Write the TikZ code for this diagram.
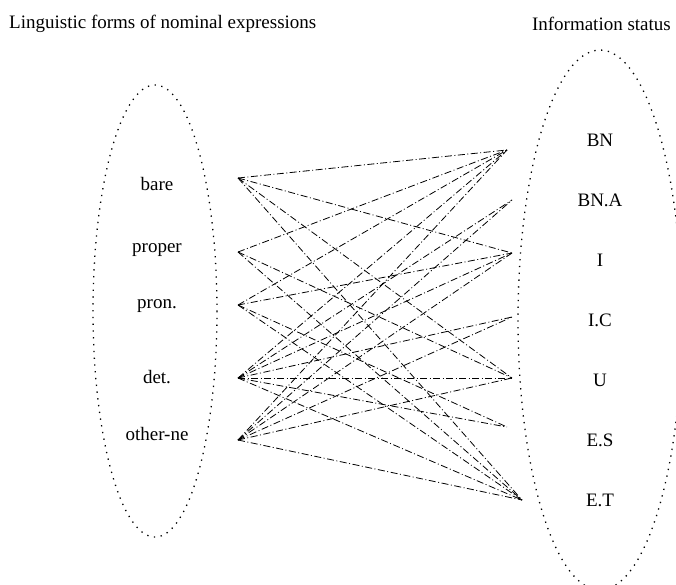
\documentclass[tikz,border=0pt]{standalone}
\usepackage{fontspec}
\setmainfont{Liberation Serif}
\usepackage{tikz}
\usetikzlibrary{positioning}
\definecolor{inkblack}{RGB}{0,0,0}

\begin{document}
\begin{tikzpicture}[x=1pt,y=-1pt,
    wordlabel/.style={font=\fontsize{19}{21}\selectfont,inner sep=0pt},
    groupring/.style={draw=inkblack,line width=1.3pt,dash pattern=on 1.3pt off 5.5pt},
    maplink/.style={draw=inkblack,line width=0.8pt,dash pattern=on 7pt off 2.5pt on 1pt off 2.5pt}]
    \useasboundingbox (0,0) rectangle (676,584);
    \clip (0,0) rectangle (676,584);

    % titles
    \node[wordlabel,anchor=west] (formtitle) at (9,24) {Linguistic forms of nominal expressions};
    \node[wordlabel,anchor=east] (statustitle) at (671,24) {Information status};

    % forms: dotted ring on the left
    \draw[groupring] (155,311) ellipse [x radius=62,y radius=226];
    \node[wordlabel] (bare) at (157,184) {bare};
    \node[wordlabel] (proper) at (157,250) {proper};
    \node[wordlabel] (pron) at (157,306) {pron.};
    \node[wordlabel] (det) at (157,377) {det.};
    \node[wordlabel] (other) at (157,434) {other-ne};

    % statuses: dotted ring on the right
    \draw[groupring] (600,320) ellipse [x radius=82,y radius=270];
    \node[wordlabel] (bn) at (600,140) {BN};
    \node[wordlabel] (bna) at (600,200) {BN.A};
    \node[wordlabel] (i) at (600,260) {I};
    \node[wordlabel] (ic) at (600,320) {I.C};
    \node[wordlabel] (u) at (600,380) {U};
    \node[wordlabel] (es) at (600,440) {E.S};
    \node[wordlabel] (et) at (600,500) {E.T};

    % fan points
    \coordinate (bare-p) at (238,178);
    \coordinate (proper-p) at (238,252);
    \coordinate (pron-p) at (238,305);
    \coordinate (det-p) at (238,378);
    \coordinate (other-p) at (238,440);
    \coordinate (bn-p) at (507,150);
    \coordinate (bna-p) at (512,200);
    \coordinate (i-p) at (512,253);
    \coordinate (ic-p) at (512,317);
    \coordinate (u-p) at (512,378);
    \coordinate (es-p) at (507,427);
    \coordinate (et-p) at (522,500);

    % form -> status links
    \foreach \from/\to in {bare/bn,bare/i,bare/u,bare/et,
        proper/bn,proper/u,proper/et,
        pron/bn,pron/i,pron/es,pron/et,
        det/bn,det/bna,det/i,det/ic,det/u,det/es,det/et,
        other/bn,other/bna,other/i,other/ic,other/u,other/et}
      \draw[maplink] (\from-p) -- (\to-p);
\end{tikzpicture}
\end{document}
